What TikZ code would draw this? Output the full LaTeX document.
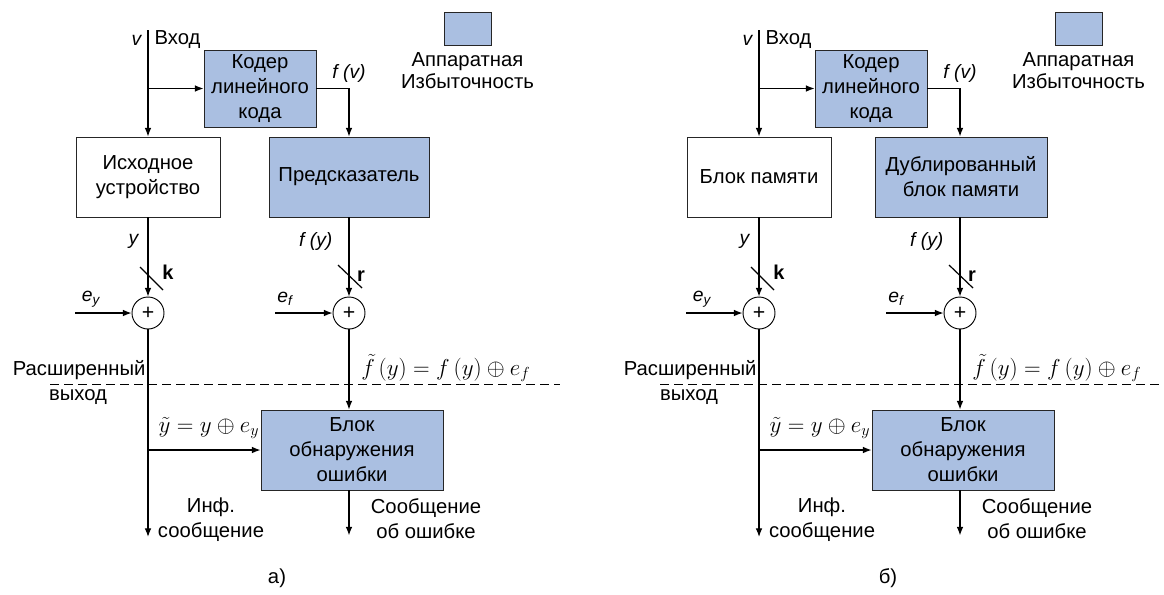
\documentclass[tikz,border=0pt]{standalone}
\usepackage{fontspec}
\setmainfont{Liberation Sans}
\usetikzlibrary{arrows.meta, positioning}
\definecolor{hwblue}{RGB}{170, 191, 225}

\begin{document}
\begin{tikzpicture}[x=0.75pt, y=-0.75pt,
    font=\fontsize{15.2}{18.75}\selectfont,
    blk/.style={draw=black!85, line width=0.7pt, align=center, minimum height=60pt, inner sep=1pt},
    hw/.style={blk, fill=hwblue},
    sumc/.style={circle, draw, line width=0.7pt, minimum size=24pt, inner sep=0pt, font=\fontsize{16}{18}\selectfont},
    lbl/.style={font=\fontsize{14.5}{17}\selectfont\itshape, inner sep=1pt},
    bw/.style={font=\fontsize{15}{17}\selectfont\bfseries, inner sep=1pt},
    frm/.style={font=\fontsize{16.5}{20}\selectfont, inner sep=0pt},
    arr/.style={-{Latex[length=6.5pt, width=5pt]}, line width=0.9pt},
    ln/.style={line width=0.9pt},
    cut/.style={dashed, line width=0.7pt, dash pattern=on 6.75pt off 3.75pt}
  ]
  \useasboundingbox (0,0) rectangle (1164,594);

  % ---- a) ----
  \begin{scope}
    \coordinate (ina) at (148,30);
    \node[hw, minimum width=84pt, minimum height=57.75pt] (codera) at (260,88.5) {Кодер\\линейного\\кода};
    \node[blk, minimum width=108pt] (deva) at (148,177) {Исходное\\устройство};
    \node[hw, minimum width=120pt] (preda) at (349,177) {Предсказатель};
    \node[sumc] (sya) at (148,313) {+};
    \node[sumc] (sfa) at (349,313) {+};
    \node[hw, minimum width=136.5pt] (erra) at (352,450) {Блок\\обнаружения\\ошибки};
    % legend
    \node[hw, minimum width=35.25pt, minimum height=24.75pt] (lega) at (467.5,28.5) {};
    \node[align=center, font=\fontsize{15.2}{16.5}\selectfont] (legta) at (467.5,71) {Аппаратная\\Избыточность};
    % inputs
    \coordinate (eya) at (75,313);
    \coordinate (efa) at (275,313);
    \coordinate (outa) at (148,537);
    % connectors
    \draw[arr] (ina) -- (deva.north);
    \draw[arr] (deva.north |- codera.west) -- (codera.west);
    \draw[arr] (codera.east) -| (preda.north);
    \draw[arr] (deva.south) -- (sya.north);
    \draw[arr] (preda.south) -- (sfa.north);
    \draw[arr] (eya) -- (sya.west);
    \draw[arr] (efa) -- (sfa.west);
    \draw[arr] (sya.south) -- (outa);
    \draw[arr] (sya |- erra.west) -- (erra.west);
    \draw[arr] (sfa.south) -- (sfa |- erra.north);
    \draw[arr] (erra.south -| sfa) -- ++(0,45);
    \draw[ln] (140,267) -- (163,290);
    \draw[ln] (338,265) -- (362,288);
    \draw[cut] (50,384) -- (560,384);
    % labels
    \node[lbl, anchor=east] at (143,40) {v};
    \node[anchor=west, inner sep=1pt] at (153,40) {Вход};
    \node[lbl] at (349,73) {f (v)};
    \node[lbl, anchor=east] at (140,241) {y};
    \node[lbl, anchor=east] at (334,241) {f (y)};
    \node[bw] at (168,272) {k};
    \node[bw] at (361,276) {r};
    \node[lbl] at (91,299) {e\textsubscript{y}};
    \node[lbl] at (285,299) {e\textsubscript{f}};
    \node[frm, anchor=west] at (361,368) {$\tilde f\,(y) = f\,(y) \oplus e_f$};
    \node[anchor=east, inner sep=1pt] at (147,370) {Расширенный};
    \node at (78,397) {выход};
    \node[frm] at (209,428) {$\tilde y = y \oplus e_y$};
    \node[align=center] at (211,520) {Инф.\\сообщение};
    \node[align=center] at (426,519) {Сообщение\\об ошибке};
    \node at (277,578) {а)};
  \end{scope}

  % ---- б) ----
  \begin{scope}[xshift=458.25pt]
    \coordinate (inb) at (148,30);
    \node[hw, minimum width=84pt, minimum height=57.75pt] (coderb) at (260,88.5) {Кодер\\линейного\\кода};
    \node[blk, minimum width=108pt] (memb) at (148,177) {Блок памяти};
    \node[hw, minimum width=129pt] (dupb) at (350,177) {Дублированный\\блок памяти};
    \node[sumc] (syb) at (148,313) {+};
    \node[sumc] (sfb) at (349,313) {+};
    \node[hw, minimum width=136.5pt] (errb) at (352,450) {Блок\\обнаружения\\ошибки};
    % legend
    \node[hw, minimum width=35.25pt, minimum height=24.75pt] (legb) at (467.5,28.5) {};
    \node[align=center, font=\fontsize{15.2}{16.5}\selectfont] (legtb) at (467.5,71) {Аппаратная\\Избыточность};
    % inputs
    \coordinate (eyb) at (75,313);
    \coordinate (efb) at (275,313);
    \coordinate (outb) at (148,537);
    % connectors
    \draw[arr] (inb) -- (memb.north);
    \draw[arr] (memb.north |- coderb.west) -- (coderb.west);
    \draw[arr] (coderb.east) -| (sfb |- dupb.north);
    \draw[arr] (memb.south) -- (syb.north);
    \draw[arr] (sfb |- dupb.south) -- (sfb.north);
    \draw[arr] (eyb) -- (syb.west);
    \draw[arr] (efb) -- (sfb.west);
    \draw[arr] (syb.south) -- (outb);
    \draw[arr] (syb |- errb.west) -- (errb.west);
    \draw[arr] (sfb.south) -- (sfb |- errb.north);
    \draw[arr] (errb.south -| sfb) -- ++(0,45);
    \draw[ln] (140,267) -- (163,290);
    \draw[ln] (338,265) -- (362,288);
    \draw[cut] (49,384) -- (553,384);
    % labels
    \node[lbl, anchor=east] at (143,40) {v};
    \node[anchor=west, inner sep=1pt] at (153,40) {Вход};
    \node[lbl] at (349,73) {f (v)};
    \node[lbl, anchor=east] at (140,241) {y};
    \node[lbl, anchor=east] at (334,241) {f (y)};
    \node[bw] at (168,272) {k};
    \node[bw] at (361,276) {r};
    \node[lbl] at (91,299) {e\textsubscript{y}};
    \node[lbl] at (285,299) {e\textsubscript{f}};
    \node[frm, anchor=west] at (361,368) {$\tilde f\,(y) = f\,(y) \oplus e_f$};
    \node[anchor=east, inner sep=1pt] at (147,370) {Расширенный};
    \node at (78,397) {выход};
    \node[frm] at (209,428) {$\tilde y = y \oplus e_y$};
    \node[align=center] at (211,520) {Инф.\\сообщение};
    \node[align=center] at (426,519) {Сообщение\\об ошибке};
    \node at (277,578) {б)};
  \end{scope}
\end{tikzpicture}
\end{document}
